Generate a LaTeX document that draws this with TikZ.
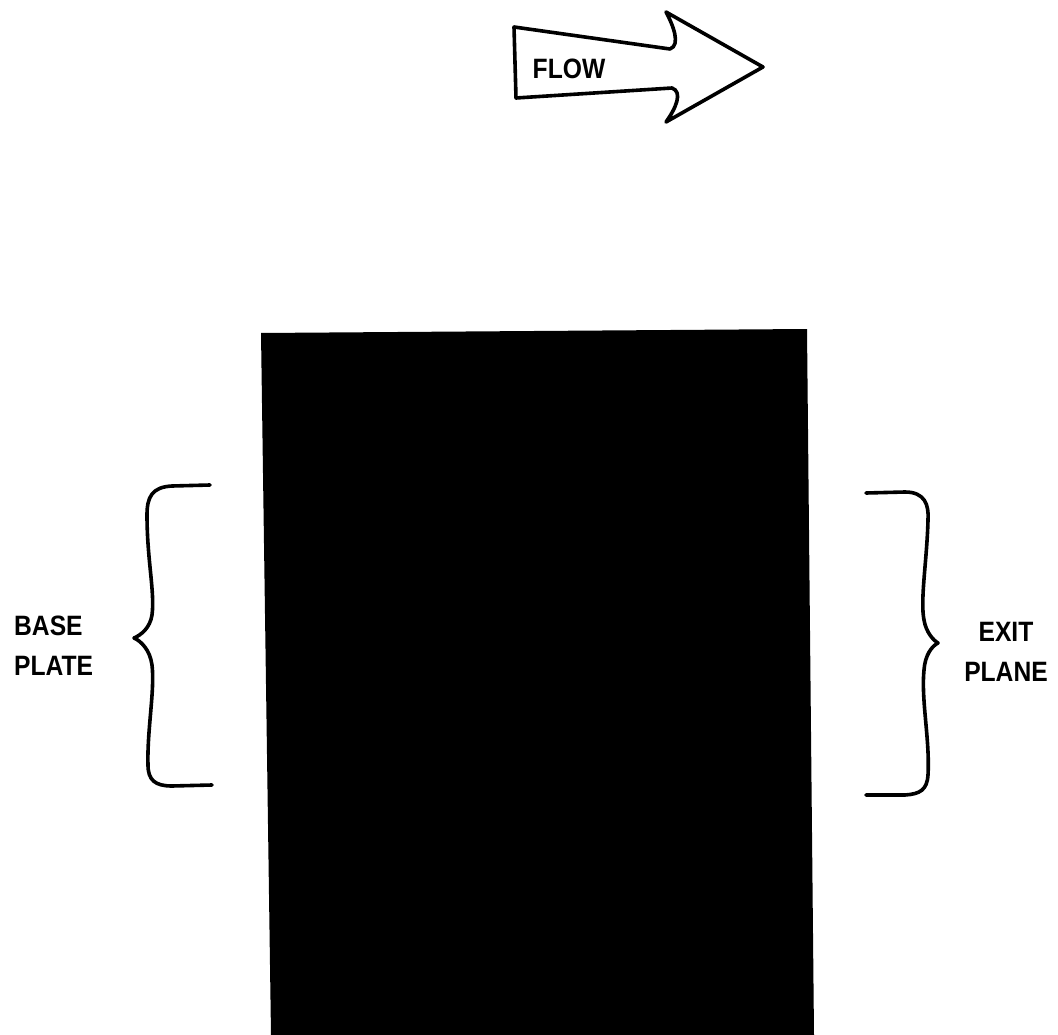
\documentclass[tikz,border=0pt]{standalone}
\usepackage{fontspec}
\setmainfont{Liberation Sans}
\newfontfamily\letterfont[FakeStretch=0.88]{Liberation Sans}
\usetikzlibrary{positioning}
\definecolor{InkBlack}{RGB}{0,0,0}
\tikzset{
  inkline/.style={draw=InkBlack,line width=3.6pt,line cap=round,line join=round},
  lettering/.style={inner sep=0pt,text=InkBlack,align=left,
    font=\letterfont\bfseries\fontsize{28}{40}\selectfont},
  flowtext/.style={inner sep=0pt,text=InkBlack,
    font=\letterfont\bfseries\fontsize{28}{32}\selectfont}
}
\begin{document}
\begin{tikzpicture}[x=1pt,y=-1pt]
  \useasboundingbox (0,0) rectangle (1058,1035);
  % flow arrow
  \draw[inkline] (514,27) -- (670,49)
    .. controls (681,45) and (673,25) .. (666,12)
    -- (763,67) -- (666,122)
    .. controls (676,108) and (683,92) .. (672,88)
    -- (516,98) -- cycle;
  \node[flowtext] (flow) at (569,69) {FLOW};
  % the block
  \fill[InkBlack] (261,333) -- (807,329) -- (814,1035) -- (271,1035) -- cycle;
  % braces
  \draw[inkline] (210,485) -- (172,486)
    .. controls (152,487) and (147,497) .. (147,515)
    .. controls (147,560) and (155,592) .. (152,615)
    .. controls (150,628) and (141,635) .. (134,638)
    .. controls (141,641) and (150,650) .. (152,665)
    .. controls (155,690) and (147,730) .. (148,765)
    .. controls (148,780) and (155,786) .. (172,786) -- (212,785);
  \draw[inkline] (866,493) -- (905,492)
    .. controls (925,492) and (929,505) .. (928,520)
    .. controls (927,560) and (920,600) .. (924,620)
    .. controls (926,632) and (933,640) .. (938,643)
    .. controls (932,646) and (925,655) .. (924,670)
    .. controls (921,700) and (930,740) .. (928,775)
    .. controls (927,790) and (920,794) .. (905,795) -- (866,795);
  \node[lettering,anchor=west] (base) at (14,646) {BASE\\PLATE};
  \node[lettering,align=center] (exit) at (1006,652) {EXIT\\PLANE};
\end{tikzpicture}
\end{document}
